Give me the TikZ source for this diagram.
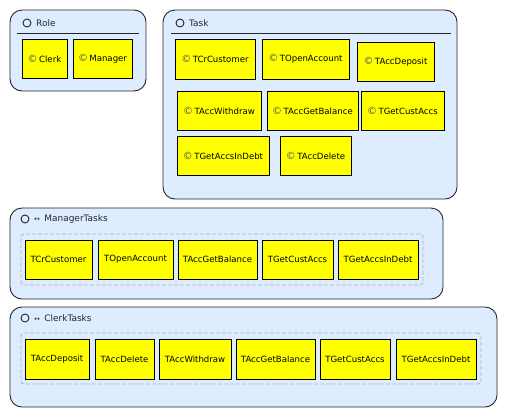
\documentclass[tikz,border=0pt]{standalone}
\usepackage{fontspec}
\setmainfont{DejaVu Sans}
\definecolor{panelblue}{RGB}{222,236,255}
\definecolor{classyellow}{RGB}{255,255,0}
\definecolor{titlegray}{RGB}{40,40,40}
% box given by its corners: style, x1, y1, x2, y2, name
\newcommand\boxnode[6]{\node[#1, minimum width={#4bp-#2bp}, minimum height={#5bp-#3bp}] (#6) at ({(#2+#4)/2},{(#3+#5)/2})}
% class marker before a class name
\newcommand\clsmark{{\fontsize{10}{10}\selectfont\color{black!65}©}\,}
\begin{document}
\begin{tikzpicture}[x=1bp,y=-1bp,
  container/.style={draw=black!85, line width=0.9bp, fill=panelblue, rounded corners=12bp, inner sep=0pt},
  cls/.style={draw=black, line width=0.9bp, fill=classyellow, inner sep=0pt, font=\fontsize{8.6}{10}\selectfont},
  group/.style={draw=black!30, dashed, dash pattern=on 4bp off 2bp, line width=0.8bp, rounded corners=3bp, inner sep=0pt},
  title/.style={anchor=west, inner sep=0pt, text=titlegray, font=\fontsize{9}{10}\selectfont},
  marker/.style={circle, draw=black!85, line width=0.9bp, minimum size=8bp, inner sep=0pt},
  sep/.style={draw=black!85, line width=0.9bp}]
\useasboundingbox (0,0) rectangle (507,417);
\fill[white] (0,0) rectangle (507,417);

% Role
\boxnode{container}{10}{10}{146}{91}{role} {};
\node[marker] (rolem) at (27,23) {};
\node[title] (rolet) at (36,23) {Role};
\coordinate (rolesa) at (17,33);
\coordinate (rolesb) at (139,33);
\draw[sep] (rolesa) -- (rolesb);
\boxnode{cls}{22}{39}{67}{78}{clerk} {\clsmark Clerk};
\boxnode{cls}{73}{39}{132}{78}{manager} {\clsmark Manager};

% Task
\boxnode{container}{163}{10}{457}{199}{task} {};
\node[marker] (taskm) at (180,23) {};
\node[title] (taskt) at (189,23) {Task};
\coordinate (tasksa) at (171,33);
\coordinate (tasksb) at (451,33);
\draw[sep] (tasksa) -- (tasksb);
\boxnode{cls}{175}{39}{255}{79}{t1} {\clsmark TCrCustomer};
\boxnode{cls}{262}{39}{349}{79}{t2} {\clsmark TOpenAccount};
\boxnode{cls}{357}{42}{434}{81}{t3} {\clsmark TAccDeposit};
\boxnode{cls}{177}{91}{261}{130}{t4} {\clsmark TAccWithdraw};
\boxnode{cls}{267}{91}{358}{130}{t5} {\clsmark TAccGetBalance};
\boxnode{cls}{361}{91}{444}{130}{t6} {\clsmark TGetCustAccs};
\boxnode{cls}{177}{136}{269}{175}{t7} {\clsmark TGetAccsInDebt};
\boxnode{cls}{280}{136}{351}{175}{t8} {\clsmark TAccDelete};

% ManagerTasks
\boxnode{container}{10}{208}{443}{299}{mt} {};
\node[marker] (mtm) at (25,219) {};
\node[title] (mtt) at (34,219) {{\fontsize{7}{8}\selectfont↔}\, ManagerTasks};
\boxnode{group}{21}{234}{423}{285}{mtg} {};
\boxnode{cls}{25}{240}{92}{279}{m1} {TCrCustomer};
\boxnode{cls}{98}{240}{173}{279}{m2} {TOpenAccount};
\boxnode{cls}{178}{240}{257}{279}{m3} {TAccGetBalance};
\boxnode{cls}{262}{240}{333}{279}{m4} {TGetCustAccs};
\boxnode{cls}{338}{240}{418}{279}{m5} {TGetAccsInDebt};

% ClerkTasks
\boxnode{container}{10}{307}{497}{407}{ct} {};
\node[marker] (ctm) at (25,318) {};
\node[title] (ctt) at (34,318) {{\fontsize{7}{8}\selectfont↔}\, ClerkTasks};
\boxnode{group}{21}{333}{481}{384}{ctg} {};
\boxnode{cls}{25}{339}{89}{379}{c1} {TAccDeposit};
\boxnode{cls}{95}{339}{154}{379}{c2} {TAccDelete};
\boxnode{cls}{159}{339}{231}{379}{c3} {TAccWithdraw};
\boxnode{cls}{236}{339}{315}{379}{c4} {TAccGetBalance};
\boxnode{cls}{320}{339}{390}{379}{c5} {TGetCustAccs};
\boxnode{cls}{396}{339}{476}{379}{c6} {TGetAccsInDebt};
\end{tikzpicture}
\end{document}
